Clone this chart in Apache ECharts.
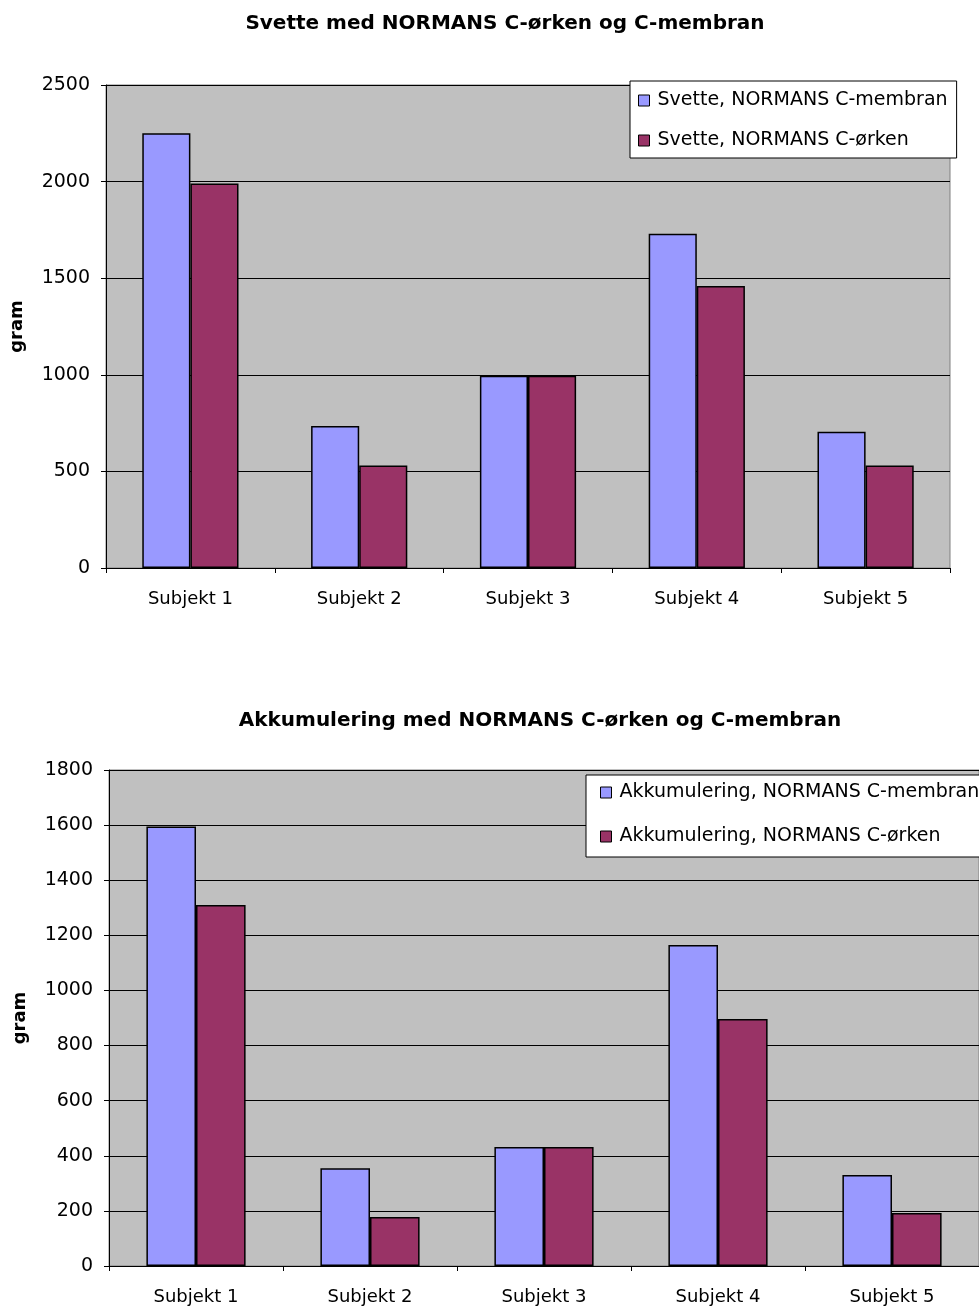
<!DOCTYPE html>
<html>
<head>
<meta charset="utf-8">
<script src="https://cdn.jsdelivr.net/npm/echarts@6/dist/echarts.min.js"></script>
<style>
  html, body { margin: 0; padding: 0; background: #fff; }
  #chart { width: 979px; height: 1310px; }
</style>
</head>
<body>
<div id="chart"></div>
<script>
// Categories shared by both panels
const subjects = ['Subjekt 1', 'Subjekt 2', 'Subjekt 3', 'Subjekt 4', 'Subjekt 5'];

// Panel 1: sweat (gram)
const sweatTitle = 'Svette med NORMANS C-ørken og C-membran';
const sweatMembranName = 'Svette, NORMANS C-membran';
const sweatOrkenName = 'Svette, NORMANS C-ørken';
const sweatMembran = [2250, 735, 995, 1730, 705];
const sweatOrken = [1990, 530, 995, 1460, 530];

// Panel 2: accumulation (gram)
const accTitle = 'Akkumulering med NORMANS C-ørken og C-membran';
const accMembranName = 'Akkumulering, NORMANS C-membran';
const accOrkenName = 'Akkumulering, NORMANS C-ørken';
const accMembran = [1595, 355, 432, 1165, 330];
const accOrken = [1310, 178, 432, 896, 192];

const yName = 'gram';

const FONT = 'DejaVu Sans, Verdana, sans-serif';
const BLUE = '#9999FF';
const MAROON = '#993366';

function barSeries(name, data, color, idx) {
  return {
    type: 'bar',
    name: name,
    data: data,
    xAxisIndex: idx,
    yAxisIndex: idx,
    barGap: '0%',
    barCategoryGap: '43%',
    itemStyle: { color: color, borderColor: '#000', borderWidth: 1.5 },
    emphasis: { disabled: true },
    animation: false
  };
}

function xAxis(idx) {
  return {
    type: 'category',
    gridIndex: idx,
    data: subjects,
    axisLine: { lineStyle: { color: '#000', width: 1 } },
    axisTick: { show: true, length: 5, interval: 0, lineStyle: { color: '#000' } },
    axisLabel: { color: '#000', fontFamily: FONT, fontSize: 18, margin: 22 }
  };
}

function yAxis(idx, max, interval) {
  return {
    type: 'value',
    gridIndex: idx,
    min: 0,
    max: max,
    interval: interval,
    name: yName,
    nameLocation: 'middle',
    nameRotate: 90,
    nameGap: 80,
    nameTextStyle: { color: '#000', fontFamily: FONT, fontSize: 18, fontWeight: 'bold' },
    axisLine: { show: true, lineStyle: { color: '#000', width: 1 } },
    axisTick: { show: true, length: 5, lineStyle: { color: '#000' } },
    axisLabel: { color: '#000', fontFamily: FONT, fontSize: 19, margin: 16,
      formatter: function (v) { return String(v); } },
    splitLine: { show: true, lineStyle: { color: '#000', width: 1 } }
  };
}

function legend(names, left, top, padding, gap) {
  return {
    data: names,
    orient: 'vertical',
    left: left,
    top: top,
    backgroundColor: '#fff',
    borderColor: '#000',
    borderWidth: 1,
    borderRadius: 0,
    padding: padding,
    itemGap: gap,
    itemWidth: 11,
    itemHeight: 11,
    icon: 'rect',
    itemStyle: { borderColor: '#000', borderWidth: 1 },
    textStyle: { color: '#000', fontFamily: FONT, fontSize: 19, padding: [0, 0, 0, 3] },
    selectedMode: false
  };
}

const chart = echarts.init(document.getElementById('chart'), null, { renderer: 'canvas' });
chart.setOption({
  backgroundColor: '#fff',
  animation: false,
  title: [
    { text: sweatTitle, left: 500, top: 9, textAlign: 'center',
      textStyle: { fontFamily: FONT, fontSize: 20, fontWeight: 'bold', color: '#000' } },
    { text: accTitle, left: 535, top: 706, textAlign: 'center',
      textStyle: { fontFamily: FONT, fontSize: 20, fontWeight: 'bold', color: '#000' } }
  ],
  grid: [
    { left: 105, top: 85, width: 845, height: 483, show: true,
      backgroundColor: '#C0C0C0', borderColor: '#808080', borderWidth: 1 },
    { left: 109, top: 770, width: 875, height: 496, show: true,
      backgroundColor: '#C0C0C0', borderColor: '#808080', borderWidth: 1 }
  ],
  legend: [
    legend([sweatMembranName, sweatOrkenName], 630, 81, [10, 9, 8, 8], 21),
    legend([accMembranName, accOrkenName], 586, 775, [8, 10, 11, 14], 25)
  ],
  xAxis: [xAxis(0), xAxis(1)],
  yAxis: [yAxis(0, 2500, 500), yAxis(1, 1800, 200)],
  series: [
    barSeries(sweatMembranName, sweatMembran, BLUE, 0),
    barSeries(sweatOrkenName, sweatOrken, MAROON, 0),
    barSeries(accMembranName, accMembran, BLUE, 1),
    barSeries(accOrkenName, accOrken, MAROON, 1)
  ]
});
</script>
</body>
</html>
